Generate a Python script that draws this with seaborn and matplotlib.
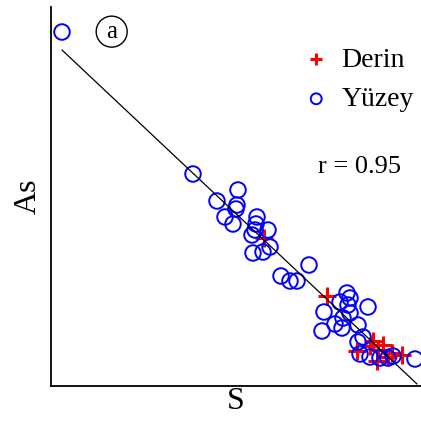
import seaborn as sns
from matplotlib import pyplot as plt
import numpy as np

# Surface samples (Yüzey), in plot units (S, As)
yuzey_s = [11, 142, 187, 166, 186, 185, 174, 182, 206, 205, 204, 217, 201, 219,
           212, 202, 258, 230, 239, 246, 296, 299, 289, 297, 317, 273, 299, 292,
           307, 284, 291, 271, 312, 307, 309, 319, 329, 337, 342, 364]
yuzey_as = [354, 212, 196, 185, 181, 177, 169, 162, 169, 162, 156, 156, 151, 139,
            134, 133, 121, 110, 105, 105, 93, 88, 84, 81, 79, 74, 73, 68,
            61, 62, 58, 55, 49, 44, 32, 29, 28, 28, 30, 27]

# Deep samples (Derin)
derin_s = [213, 276, 322, 332, 319, 306, 327, 351, 337, 326, 341]
derin_as = [148, 90, 45, 41, 40, 35, 36, 31, 29, 25, 33]

# regression line end points
fit_s = [11, 366]
fit_as = [336, 2]
r_value = 0.95

sns.set_style("white")
plt.rcParams["font.family"] = ["Liberation Serif", "DejaVu Serif"]
plt.rcParams["text.color"] = "black"
plt.rcParams["axes.labelcolor"] = "black"

fig = plt.figure(figsize=(4.21, 4.21), dpi=100)
ax = fig.add_axes([51 / 421, 35 / 421, 370 / 421, 379 / 421])

sns.scatterplot(x=derin_s, y=derin_as, ax=ax, marker="+", color="red",
                s=170, linewidth=2.2, label="Derin", zorder=2)
sns.scatterplot(x=yuzey_s, y=yuzey_as, ax=ax, marker="o", facecolor="none",
                edgecolor="blue", s=125, linewidth=1.4, label="Yüzey", zorder=3)
sns.lineplot(x=fit_s, y=fit_as, ax=ax, color="black", linewidth=0.9, zorder=4)

ax.set_xlim(0, 370)
ax.set_ylim(0, 379)
ax.set_xticks([])
ax.set_yticks([])
ax.set_xlabel("S", fontsize=23, labelpad=1)
ax.set_ylabel("As", fontsize=23, labelpad=6)

for side in ["top", "right"]:
    ax.spines[side].set_visible(False)
for side in ["left", "bottom"]:
    ax.spines[side].set_color("black")
    ax.spines[side].set_linewidth(1.3)

ax.text(0.835, 0.578, f"r = {r_value}", transform=ax.transAxes,
        fontsize=19, ha="center", va="center")
ax.text(0.164, 0.935, "a", transform=ax.transAxes, fontsize=18,
        ha="center", va="center",
        bbox=dict(boxstyle="circle,pad=0.18", fc="white", ec="black", lw=1))

leg = ax.legend(loc="upper right", bbox_to_anchor=(1.01, 0.923), frameon=False,
                fontsize=20, markerscale=0.7, handlelength=1.0,
                handletextpad=0.4, labelspacing=0.5, borderaxespad=0.0)

plt.savefig("out.png", dpi=100)
